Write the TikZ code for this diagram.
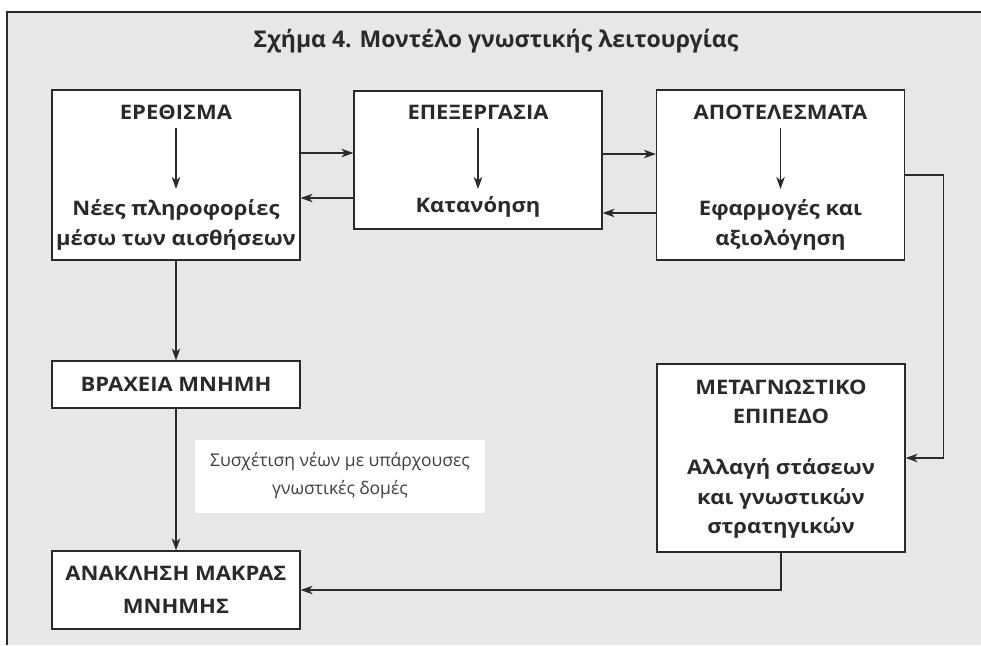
\documentclass[tikz,border=0pt]{standalone}
\usepackage{fontspec}
\setmainfont{Open Sans}
\newfontfamily\boxf{Open Sans}[FakeStretch=1.1]
\usetikzlibrary{arrows.meta}
\definecolor{ink}{HTML}{2B2A2B}
\definecolor{panel}{HTML}{E6E7E8}
\begin{document}
\begin{tikzpicture}[x=1pt,y=-1pt,
  box/.style={draw=ink, line width=1.2pt, fill=white, inner sep=0pt, minimum width=248pt},
  hd/.style={font=\boxf\bfseries\fontsize{20}{30}\selectfont, text=ink, inner sep=0pt, anchor=base},
  titlestyle/.style={font=\bfseries\fontsize{23}{27}\selectfont, text=ink, inner sep=0pt, anchor=base},
  lab/.style={fill=white, inner sep=0pt, minimum width=290pt, minimum height=73pt, align=center, text=ink!90, font=\fontsize{17.5}{28}\selectfont},
  arr/.style={draw=ink, line width=1.2pt, -{Stealth[length=12pt, width=8.5pt, inset=3.5pt]}},
  ln/.style={draw=ink, line width=1.2pt}
]
\useasboundingbox (0,0) rectangle (981,645);
\fill[panel] (7,12) rectangle (981,645);
\draw[ink, line width=2.6pt] (7,645) -- (7,12) -- (981,12);

\node[titlestyle] (title) at (496,47) {Σχήμα 4. Μοντέλο γνωστικής λειτουργίας};

% boxes
\node[box, minimum height=170pt] (b1) at (176,175) {};
\node[box, minimum height=138pt] (b2) at (478,160) {};
\node[box, minimum height=170pt] (b3) at (780.5,175) {};
\node[box, minimum height=47pt] (br) at (176,384.5) {};
\node[box, minimum height=78pt] (an) at (176,590) {};
\node[box, minimum height=188pt] (me) at (781,458) {};
\node[lab] (lb) at (340,476) {Συσχέτιση νέων με υπάρχουσες\\γνωστικές δομές};

% texts
\node[hd] (h1) at (176,119) {ΕΡΕΘΙΣΜΑ};
\node[hd] (s1) at (176,215) {Νέες πληροφορίες};
\node[hd] (s1b) at (176,245) {μέσω των αισθήσεων};
\node[hd] (h2) at (478,119) {ΕΠΕΞΕΡΓΑΣΙΑ};
\node[hd] (s2) at (478,212) {Κατανόηση};
\node[hd] (h3) at (780.5,119) {ΑΠΟΤΕΛΕΣΜΑΤΑ};
\node[hd] (s3) at (780.5,215) {Εφαρμογές και};
\node[hd] (s3b) at (780.5,245) {αξιολόγηση};
\node[hd] (tbr) at (176,391) {ΒΡΑΧΕΙΑ ΜΝΗΜΗ};
\node[hd] (tan) at (176,580) {ΑΝΑΚΛΗΣΗ ΜΑΚΡΑΣ};
\node[hd] (tanb) at (176,613) {ΜΝΗΜΗΣ};
\node[hd] (tme) at (781,394) {ΜΕΤΑΓΝΩΣΤΙΚΟ};
\node[hd] (tmeb) at (781,423) {ΕΠΙΠΕΔΟ};
\node[hd] (tmc) at (781,474) {Αλλαγή στάσεων};
\node[hd] (tmd) at (781,504) {και γνωστικών};
\node[hd] (tmf) at (781,533) {στρατηγικών};

% internal arrows
\draw[arr] ([yshift=-9pt]h1.base) -- ([yshift=26pt]s1.base);
\draw[arr] ([yshift=-9pt]h2.base) -- ([yshift=23pt]s2.base);
\draw[arr] ([yshift=-9pt]h3.base) -- ([yshift=26pt]s3.base);

% horizontal arrows between top boxes
\draw[arr] ([yshift=22pt]b1.east) -- ([yshift=22pt]b1.east -| b2.west);
\draw[arr] ([yshift=-38pt]b2.west) -- ([yshift=-38pt]b2.west -| b1.east);
\draw[arr] ([yshift=6pt]b2.east) -- ([yshift=6pt]b2.east -| b3.west);
\draw[arr] ([yshift=-38pt]b3.west) -- ([yshift=-38pt]b3.west -| b2.east);

% vertical left chain
\draw[arr] (b1.south) -- (br.north);
\draw[arr] (br.south) -- (an.north);

% right loop
\coordinate (c1) at ([xshift=38pt]b3.east);
\draw[arr] (b3.east) -- (c1) |- (me.east);
\draw[arr] (me.south) |- (an.east);
\end{tikzpicture}
\end{document}
